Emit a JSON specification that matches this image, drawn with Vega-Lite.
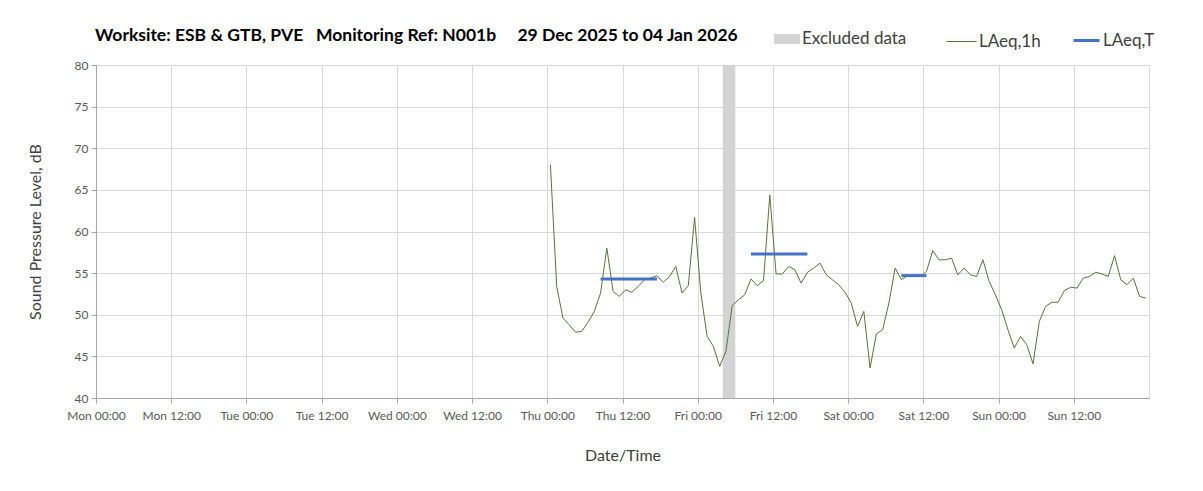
{
  "$schema": "https://vega.github.io/schema/vega-lite/v6.json",
  "width": 1053,
  "height": 333,
  "autosize": {"type": "none"},
  "padding": {"left": 96, "top": 65, "right": 54, "bottom": 93},
  "background": "white",
  "title": {
    "text": "Worksite: ESB & GTB, PVE\u00a0\u00a0 Monitoring Ref: N001b\u00a0\u00a0\u00a0\u00a0 29 Dec 2025 to 04 Jan 2026",
    "anchor": "start",
    "frame": "group",
    "font": "Lato",
    "fontSize": 17.5,
    "fontWeight": "bold",
    "color": "#000000",
    "offset": 0,
    "dy": 18,
    "dx": -1
  },
  "config": {
    "font": "Lato",
    "view": {"stroke": "#d9d9d9"},
    "axis": {
      "gridColor": "#d9d9d9",
      "gridWidth": 1,
      "domainColor": "#a6a6a6",
      "tickColor": "#a6a6a6",
      "tickSize": 5,
      "labelFont": "Lato",
      "labelFontSize": 12,
      "labelColor": "#595959",
      "titleFont": "Lato",
      "titleFontSize": 16,
      "titleFontWeight": "normal",
      "titleColor": "#404040"
    },
    "legend": {
      "labelFont": "Lato",
      "labelFontSize": 17,
      "labelColor": "#404040",
      "padding": 0,
      "labelOffset": 2,
      "orient": "none"
    }
  },
  "datasets": {
    "hourly": [
      {"t": "2026-01-01T00:30:00Z", "v": 68.0},
      {"t": "2026-01-01T01:30:00Z", "v": 53.4},
      {"t": "2026-01-01T02:30:00Z", "v": 49.6},
      {"t": "2026-01-01T03:30:00Z", "v": 48.8},
      {"t": "2026-01-01T04:30:00Z", "v": 47.9},
      {"t": "2026-01-01T05:30:00Z", "v": 48.0},
      {"t": "2026-01-01T06:30:00Z", "v": 49.1},
      {"t": "2026-01-01T07:30:00Z", "v": 50.4},
      {"t": "2026-01-01T08:30:00Z", "v": 52.6},
      {"t": "2026-01-01T09:30:00Z", "v": 58.0},
      {"t": "2026-01-01T10:30:00Z", "v": 52.8},
      {"t": "2026-01-01T11:30:00Z", "v": 52.2},
      {"t": "2026-01-01T12:30:00Z", "v": 53.0},
      {"t": "2026-01-01T13:30:00Z", "v": 52.7},
      {"t": "2026-01-01T14:30:00Z", "v": 53.4},
      {"t": "2026-01-01T15:30:00Z", "v": 54.2},
      {"t": "2026-01-01T16:30:00Z", "v": 54.4},
      {"t": "2026-01-01T17:30:00Z", "v": 54.7},
      {"t": "2026-01-01T18:30:00Z", "v": 53.9},
      {"t": "2026-01-01T19:30:00Z", "v": 54.6},
      {"t": "2026-01-01T20:30:00Z", "v": 55.8},
      {"t": "2026-01-01T21:30:00Z", "v": 52.6},
      {"t": "2026-01-01T22:30:00Z", "v": 53.5},
      {"t": "2026-01-01T23:30:00Z", "v": 61.7},
      {"t": "2026-01-02T00:30:00Z", "v": 52.6},
      {"t": "2026-01-02T01:30:00Z", "v": 47.4},
      {"t": "2026-01-02T02:30:00Z", "v": 46.2},
      {"t": "2026-01-02T03:30:00Z", "v": 43.8},
      {"t": "2026-01-02T04:30:00Z", "v": 45.6},
      {"t": "2026-01-02T05:30:00Z", "v": 51.1},
      {"t": "2026-01-02T06:30:00Z", "v": 51.8},
      {"t": "2026-01-02T07:30:00Z", "v": 52.4},
      {"t": "2026-01-02T08:30:00Z", "v": 54.3},
      {"t": "2026-01-02T09:30:00Z", "v": 53.5},
      {"t": "2026-01-02T10:30:00Z", "v": 54.1},
      {"t": "2026-01-02T11:30:00Z", "v": 64.4},
      {"t": "2026-01-02T12:30:00Z", "v": 54.9},
      {"t": "2026-01-02T13:30:00Z", "v": 54.9},
      {"t": "2026-01-02T14:30:00Z", "v": 55.8},
      {"t": "2026-01-02T15:30:00Z", "v": 55.4},
      {"t": "2026-01-02T16:30:00Z", "v": 53.8},
      {"t": "2026-01-02T17:30:00Z", "v": 55.1},
      {"t": "2026-01-02T18:30:00Z", "v": 55.6},
      {"t": "2026-01-02T19:30:00Z", "v": 56.2},
      {"t": "2026-01-02T20:30:00Z", "v": 54.8},
      {"t": "2026-01-02T21:30:00Z", "v": 54.2},
      {"t": "2026-01-02T22:30:00Z", "v": 53.6},
      {"t": "2026-01-02T23:30:00Z", "v": 52.7},
      {"t": "2026-01-03T00:30:00Z", "v": 51.4},
      {"t": "2026-01-03T01:30:00Z", "v": 48.6},
      {"t": "2026-01-03T02:30:00Z", "v": 50.4},
      {"t": "2026-01-03T03:30:00Z", "v": 43.6},
      {"t": "2026-01-03T04:30:00Z", "v": 47.7},
      {"t": "2026-01-03T05:30:00Z", "v": 48.2},
      {"t": "2026-01-03T06:30:00Z", "v": 51.4},
      {"t": "2026-01-03T07:30:00Z", "v": 55.6},
      {"t": "2026-01-03T08:30:00Z", "v": 54.2},
      {"t": "2026-01-03T09:30:00Z", "v": 54.7},
      {"t": "2026-01-03T10:30:00Z", "v": 54.6},
      {"t": "2026-01-03T11:30:00Z", "v": 54.6},
      {"t": "2026-01-03T12:30:00Z", "v": 55.2},
      {"t": "2026-01-03T13:30:00Z", "v": 57.7},
      {"t": "2026-01-03T14:30:00Z", "v": 56.6},
      {"t": "2026-01-03T15:30:00Z", "v": 56.6},
      {"t": "2026-01-03T16:30:00Z", "v": 56.8},
      {"t": "2026-01-03T17:30:00Z", "v": 54.8},
      {"t": "2026-01-03T18:30:00Z", "v": 55.6},
      {"t": "2026-01-03T19:30:00Z", "v": 54.8},
      {"t": "2026-01-03T20:30:00Z", "v": 54.6},
      {"t": "2026-01-03T21:30:00Z", "v": 56.6},
      {"t": "2026-01-03T22:30:00Z", "v": 54.0},
      {"t": "2026-01-03T23:30:00Z", "v": 52.4},
      {"t": "2026-01-04T00:30:00Z", "v": 50.6},
      {"t": "2026-01-04T01:30:00Z", "v": 48.2},
      {"t": "2026-01-04T02:30:00Z", "v": 46.0},
      {"t": "2026-01-04T03:30:00Z", "v": 47.4},
      {"t": "2026-01-04T04:30:00Z", "v": 46.4},
      {"t": "2026-01-04T05:30:00Z", "v": 44.1},
      {"t": "2026-01-04T06:30:00Z", "v": 49.2},
      {"t": "2026-01-04T07:30:00Z", "v": 51.0},
      {"t": "2026-01-04T08:30:00Z", "v": 51.5},
      {"t": "2026-01-04T09:30:00Z", "v": 51.5},
      {"t": "2026-01-04T10:30:00Z", "v": 52.9},
      {"t": "2026-01-04T11:30:00Z", "v": 53.3},
      {"t": "2026-01-04T12:30:00Z", "v": 53.2},
      {"t": "2026-01-04T13:30:00Z", "v": 54.4},
      {"t": "2026-01-04T14:30:00Z", "v": 54.6},
      {"t": "2026-01-04T15:30:00Z", "v": 55.1},
      {"t": "2026-01-04T16:30:00Z", "v": 54.9},
      {"t": "2026-01-04T17:30:00Z", "v": 54.6},
      {"t": "2026-01-04T18:30:00Z", "v": 57.1},
      {"t": "2026-01-04T19:30:00Z", "v": 54.2},
      {"t": "2026-01-04T20:30:00Z", "v": 53.6},
      {"t": "2026-01-04T21:30:00Z", "v": 54.4},
      {"t": "2026-01-04T22:30:00Z", "v": 52.2},
      {"t": "2026-01-04T23:30:00Z", "v": 52.0}
    ],
    "periods": [
      {"start": "2026-01-01T08:30:00Z", "end": "2026-01-01T17:30:00Z", "v": 54.3},
      {"start": "2026-01-02T08:30:00Z", "end": "2026-01-02T17:30:00Z", "v": 57.3},
      {"start": "2026-01-03T08:30:00Z", "end": "2026-01-03T12:30:00Z", "v": 54.7}
    ],
    "excluded": [
      {"start": "2026-01-02T04:00:00Z", "end": "2026-01-02T06:00:00Z", "lo": 40, "hi": 80}
    ]
  },
  "encoding": {
    "x": {
      "type": "temporal",
      "title": "Date/Time",
      "scale": {
        "type": "utc",
        "domain": [
          {"year": 2025, "month": 12, "date": 29, "hours": 0, "utc": true},
          {"year": 2026, "month": 1, "date": 5, "hours": 0, "utc": true}
        ]
      },
      "axis": {
        "format": "%a %H:%M",
        "values": [
          {"year": 2025, "month": 12, "date": 29, "hours": 0, "utc": true},
          {"year": 2025, "month": 12, "date": 29, "hours": 12, "utc": true},
          {"year": 2025, "month": 12, "date": 30, "hours": 0, "utc": true},
          {"year": 2025, "month": 12, "date": 30, "hours": 12, "utc": true},
          {"year": 2025, "month": 12, "date": 31, "hours": 0, "utc": true},
          {"year": 2025, "month": 12, "date": 31, "hours": 12, "utc": true},
          {"year": 2026, "month": 1, "date": 1, "hours": 0, "utc": true},
          {"year": 2026, "month": 1, "date": 1, "hours": 12, "utc": true},
          {"year": 2026, "month": 1, "date": 2, "hours": 0, "utc": true},
          {"year": 2026, "month": 1, "date": 2, "hours": 12, "utc": true},
          {"year": 2026, "month": 1, "date": 3, "hours": 0, "utc": true},
          {"year": 2026, "month": 1, "date": 3, "hours": 12, "utc": true},
          {"year": 2026, "month": 1, "date": 4, "hours": 0, "utc": true},
          {"year": 2026, "month": 1, "date": 4, "hours": 12, "utc": true}
        ],
        "labelPadding": 7,
        "labelOverlap": false,
        "labelFlush": false,
        "titlePadding": 26
      }
    },
    "y": {
      "type": "quantitative",
      "title": "Sound Pressure Level, dB",
      "scale": {"domain": [40, 80], "nice": false, "zero": false},
      "axis": {"values": [40, 45, 50, 55, 60, 65, 70, 75, 80], "labelPadding": 3, "titlePadding": 31}
    }
  },
  "layer": [
    {
      "data": {"name": "excluded"},
      "mark": {"type": "rect"},
      "encoding": {
        "x": {"field": "start", "type": "temporal"},
        "x2": {"field": "end"},
        "y": {"field": "lo", "type": "quantitative"},
        "y2": {"field": "hi"},
        "fill": {
          "datum": "Excluded data",
          "type": "nominal",
          "scale": {"domain": ["Excluded data"], "range": ["#d3d3d3"]},
          "legend": {
            "title": null,
            "symbolType": "M-1,-0.38H1V0.38H-1Z",
            "symbolSize": 676,
            "symbolStrokeWidth": 0,
            "legendX": 678,
            "legendY": -39
          }
        }
      }
    },
    {
      "data": {"name": "hourly"},
      "mark": {"type": "line", "strokeWidth": 1},
      "encoding": {
        "x": {"field": "t", "type": "temporal"},
        "y": {"field": "v", "type": "quantitative"},
        "stroke": {
          "datum": "LAeq,1h",
          "type": "nominal",
          "scale": {"domain": ["LAeq,1h"], "range": ["#56763a"]},
          "legend": {
            "title": null,
            "symbolType": "stroke",
            "symbolSize": 900,
            "symbolStrokeWidth": 1,
            "legendX": 850,
            "legendY": -39
          }
        }
      }
    },
    {
      "data": {"name": "periods"},
      "mark": {"type": "rule", "strokeWidth": 3},
      "encoding": {
        "x": {"field": "start", "type": "temporal"},
        "x2": {"field": "end"},
        "y": {"field": "v", "type": "quantitative"},
        "color": {
          "datum": "LAeq,T",
          "type": "nominal",
          "scale": {"domain": ["LAeq,T"], "range": ["#4472c4"]},
          "legend": {
            "title": null,
            "symbolType": "stroke",
            "symbolSize": 676,
            "symbolStrokeWidth": 3,
            "legendX": 976,
            "legendY": -39
          }
        }
      }
    }
  ]
}
